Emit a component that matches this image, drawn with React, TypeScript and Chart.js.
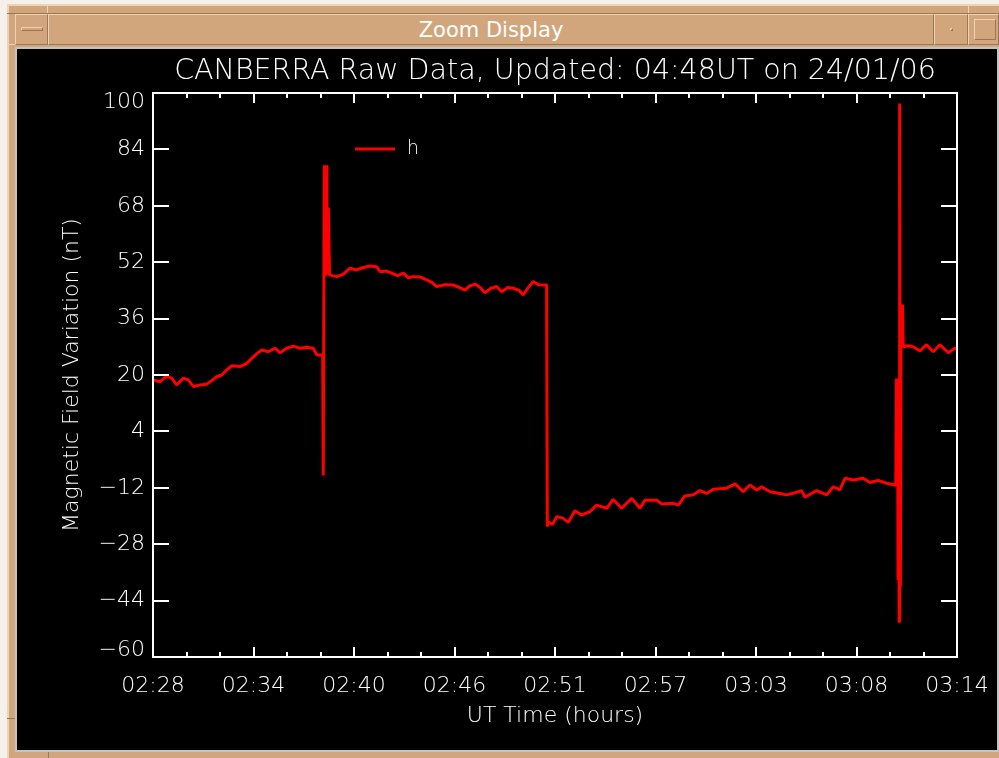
import React, { useEffect, useRef } from "react";
import { Chart, registerables } from "chart.js";

Chart.register(...registerables);

// ---- text ----
const chartTitle = "CANBERRA Raw Data, Updated: 04:48UT on 24/01/06";
const xAxisTitle = "UT Time (hours)";
const yAxisTitle = "Magnetic Field Variation (nT)";
const seriesName = "h";
const windowTitle = "Zoom Display";

// ---- axes ----
// time axis runs in minutes after 02:28 UT
const spanMinutes = 46;
const timeTickLabels = ["02:28", "02:34", "02:40", "02:46", "02:51", "02:57", "03:03", "03:08", "03:14"];
const minorPerMajor = 3;
const fieldMin = -60;
const fieldMax = 100;
const fieldTicks = [-60, -44, -28, -12, 4, 20, 36, 52, 68, 84, 100];

// ---- H component samples (minutes, nT) ----
const riseMinutes = [0.02, 0.4, 0.78, 1.07, 1.35, 1.74, 2.02, 2.31, 2.69, 3.07, 3.36, 3.64, 3.93, 4.21, 4.5, 4.98, 5.36, 5.65, 5.93, 6.22, 6.6, 6.98, 7.27, 7.65, 8.03, 8.41, 8.79, 9.17, 9.37, 9.71];
const riseH = [18.6, 18.1, 19.7, 19.1, 17.2, 19.1, 18.6, 16.7, 17.2, 17.4, 18.4, 19.5, 20.0, 21.4, 22.6, 22.4, 23.3, 24.7, 26.0, 27.1, 26.6, 27.6, 26.3, 27.6, 28.2, 27.6, 27.9, 27.6, 25.7, 25.7];

const firstJumpMinutes = [9.74, 9.8, 9.86, 9.9, 9.95, 10.03, 10.1];
const firstJumpH = [-8.5, 79.5, 48.0, 79.5, 48.5, 67.5, 48.4];

const plateauMinutes = [10.51, 10.9, 11.27, 11.65, 12.03, 12.41, 12.8, 12.99, 13.37, 13.75, 14.0, 14.32, 14.6, 14.89, 15.28, 15.66, 15.95, 16.23, 16.7, 17.18, 17.5, 17.85, 18.1, 18.42, 18.7, 18.99, 19.3, 19.66, 19.95, 20.3, 20.61, 20.95, 21.18, 21.5, 21.76, 22.05, 22.52];
const plateauH = [47.9, 48.6, 50.3, 49.8, 50.5, 50.9, 50.7, 49.3, 49.5, 48.7, 48.2, 48.9, 47.6, 47.9, 47.8, 47.0, 46.3, 45.1, 45.6, 45.5, 44.9, 44.1, 45.2, 45.8, 44.9, 43.3, 44.5, 45.1, 43.6, 44.8, 44.6, 44.0, 42.7, 45.0, 46.5, 45.6, 45.5];

const lowMinutes = [22.56, 22.61, 22.85, 23.1, 23.45, 23.76, 24.14, 24.53, 25.0, 25.38, 25.96, 26.33, 26.81, 27.39, 27.86, 28.15, 28.82, 29.1, 29.77, 30.05, 30.43, 30.91, 31.29, 31.68, 32.05, 32.82, 33.3, 33.77, 34.15, 34.54, 34.82, 35.3, 35.87, 36.25, 36.73, 37.11, 37.3, 37.68, 37.97, 38.54, 38.92, 39.3, 39.59, 40.06, 40.63, 41.02, 41.49, 41.97, 42.45];
const lowH = [-23.0, -21.6, -22.4, -20.2, -20.6, -21.8, -18.5, -19.7, -18.8, -16.9, -17.8, -15.3, -17.8, -15.0, -17.8, -15.5, -15.5, -16.6, -16.4, -16.9, -14.3, -14.0, -12.8, -13.6, -12.4, -12.1, -10.9, -13.1, -11.2, -12.6, -11.7, -13.1, -13.6, -14.0, -13.4, -12.8, -14.7, -13.6, -12.8, -14.0, -11.7, -12.6, -9.3, -9.8, -9.3, -10.5, -9.9, -10.7, -11.2];

const burstMinutes = [42.5, 42.53, 42.56, 42.6, 42.63, 42.66, 42.69, 42.72, 42.76, 42.8, 42.88, 42.92];
const burstH = [-11.0, 19.0, -10.0, 11.0, -38.0, 10.0, -50.0, 97.0, -40.0, 28.0, 40.0, 28.0];

const recoveryMinutes = [43.2, 43.5, 43.88, 44.26, 44.64, 45.02, 45.5, 45.88, 46.0];
const recoveryH = [28.3, 28.0, 26.8, 28.6, 26.6, 28.6, 26.3, 27.6, 27.2];

const allMinutes = [...riseMinutes, ...firstJumpMinutes, ...plateauMinutes, ...lowMinutes, ...burstMinutes, ...recoveryMinutes];
const allH = [...riseH, ...firstJumpH, ...plateauH, ...lowH, ...burstH, ...recoveryH];

const SANS = "'DejaVu Sans', 'Liberation Sans', sans-serif";
const THIN = "200";
const LABEL_SIZE = 22;
const TRACE = "#ff0000";
const INK = "#ffffff";

const minorCount = (timeTickLabels.length - 1) * minorPerMajor;

// Box, inward ticks, field labels and the legend, drawn in the old plotting-package style
const framePlugin = {
  id: "boxFrame",
  afterDatasetsDraw(chart: any) {
    const { ctx, chartArea: a, scales } = chart;
    const xs = scales.x;
    const ys = scales.y;
    ctx.save();
    ctx.strokeStyle = INK;
    ctx.lineWidth = 2;
    ctx.strokeRect(a.left, a.top, a.right - a.left, a.bottom - a.top);
    ctx.beginPath();
    for (let i = 0; i <= minorCount; i++) {
      const px = Math.round(xs.getPixelForValue((spanMinutes * i) / minorCount));
      const len = i % minorPerMajor === 0 ? 10 : 5;
      ctx.moveTo(px, a.bottom);
      ctx.lineTo(px, a.bottom - len);
      ctx.moveTo(px, a.top);
      ctx.lineTo(px, a.top + len);
    }
    for (const v of fieldTicks) {
      const py = Math.round(ys.getPixelForValue(v));
      ctx.moveTo(a.left, py);
      ctx.lineTo(a.left + 16, py);
      ctx.moveTo(a.right, py);
      ctx.lineTo(a.right - 16, py);
    }
    ctx.stroke();

    ctx.fillStyle = INK;
    ctx.font = `${THIN} ${LABEL_SIZE}px ${SANS}`;
    ctx.textAlign = "right";
    ctx.textBaseline = "middle";
    for (const v of fieldTicks) {
      const py = ys.getPixelForValue(v);
      const y = Math.min(Math.max(py, a.top + 9), a.bottom - 7);
      const text = v < 0 ? "\u2212" + Math.abs(v) : String(v);
      ctx.fillText(text, a.left - 8, y);
    }

    // legend
    const lx = a.left + 202;
    const ly = a.top + 56;
    ctx.strokeStyle = TRACE;
    ctx.lineWidth = 3;
    ctx.beginPath();
    ctx.moveTo(lx, ly);
    ctx.lineTo(lx + 40, ly);
    ctx.stroke();
    ctx.fillStyle = INK;
    ctx.font = `${THIN} 19px ${SANS}`;
    ctx.textAlign = "left";
    ctx.textBaseline = "alphabetic";
    ctx.fillText(seriesName, lx + 52, ly + 5);
    ctx.restore();
  },
};

function Bevel(props: { left: number; top: number; width: number; height: number; children?: React.ReactNode }) {
  return (
    <div
      style={{
        position: "absolute",
        left: props.left,
        top: props.top,
        width: props.width,
        height: props.height,
        boxSizing: "border-box",
        background: "#d2a67c",
        borderTop: "1px solid #efd3b2",
        borderLeft: "1px solid #efd3b2",
        borderBottom: "1px solid #9a7754",
        borderRight: "1px solid #9a7754",
      }}
    >
      {props.children}
    </div>
  );
}

const raisedEdge = {
  position: "absolute" as const,
  boxSizing: "border-box" as const,
  borderTop: "1px solid #efd3b2",
  borderLeft: "1px solid #efd3b2",
  borderBottom: "1px solid #9a7754",
  borderRight: "1px solid #9a7754",
};

export default function App() {
  const canvasRef = useRef<HTMLCanvasElement>(null);

  useEffect(() => {
    const canvas = canvasRef.current;
    if (!canvas) return;
    const points = allMinutes.map((m, i) => ({ x: m, y: allH[i] }));
    const chart = new Chart(canvas, {
      type: "line",
      data: {
        datasets: [
          {
            label: seriesName,
            data: points,
            borderColor: TRACE,
            backgroundColor: TRACE,
            borderWidth: 3,
            borderJoinStyle: "bevel",
            pointRadius: 0,
            tension: 0,
            fill: false,
          },
        ],
      },
      options: {
        responsive: false,
        animation: false,
        devicePixelRatio: 1,
        layout: { padding: { left: 0, right: 40, top: 0, bottom: 0 } },
        plugins: {
          legend: { display: false },
          title: { display: false },
          tooltip: { enabled: false },
        },
        scales: {
          x: {
            type: "linear",
            position: "bottom",
            min: 0,
            max: spanMinutes,
            afterBuildTicks: (s: any) => {
              s.ticks = Array.from({ length: minorCount + 1 }, (_, i) => ({ value: (spanMinutes * i) / minorCount }));
            },
            afterFit: (s: any) => {
              s.height = 93;
              s.paddingLeft = 0;
              s.paddingRight = 0;
            },
            grid: { display: false, drawTicks: false },
            border: { display: false },
            ticks: {
              autoSkip: false,
              maxRotation: 0,
              minRotation: 0,
              color: INK,
              padding: 18,
              font: { family: SANS, size: LABEL_SIZE, weight: THIN, lineHeight: 1 },
              callback: (_v: any, index: number) => (index % minorPerMajor === 0 ? timeTickLabels[index / minorPerMajor] : ""),
            },
            title: {
              display: true,
              text: xAxisTitle,
              color: INK,
              font: { family: SANS, size: LABEL_SIZE, weight: THIN, lineHeight: 1 },
              padding: { top: 0, bottom: 23 },
            },
          },
          top: {
            type: "linear",
            position: "top",
            min: 0,
            max: spanMinutes,
            afterFit: (s: any) => {
              s.height = 44;
              s.paddingLeft = 0;
              s.paddingRight = 0;
            },
            grid: { display: false, drawTicks: false },
            border: { display: false },
            ticks: { display: false },
            title: {
              display: true,
              text: chartTitle,
              color: INK,
              font: { family: SANS, size: 28.5, weight: THIN, lineHeight: 1 },
              padding: { top: 8, bottom: 0 },
            },
          },
          y: {
            type: "linear",
            position: "left",
            min: fieldMin,
            max: fieldMax,
            afterFit: (s: any) => {
              s.width = 136;
            },
            grid: { display: false, drawTicks: false },
            border: { display: false },
            ticks: { display: false },
            title: {
              display: true,
              text: yAxisTitle,
              color: INK,
              font: { family: SANS, size: LABEL_SIZE, weight: THIN, lineHeight: 1 },
              padding: { top: 44, bottom: 0 },
            },
          },
        },
      },
      plugins: [framePlugin],
    } as any);
    return () => chart.destroy();
  }, []);

  return (
    <div
      style={{
        position: "fixed",
        left: 0,
        top: 0,
        width: 999,
        height: 758,
        overflow: "hidden",
        background: "#f6f0ea",
        fontFamily: SANS,
      }}
    >
      {/* window frame */}
      <div
        style={{
          position: "absolute",
          left: 7,
          top: 4,
          width: 992,
          height: 754,
          boxSizing: "border-box",
          background: "#d2a67c",
          borderTop: "2px solid #efd3b2",
          borderLeft: "2px solid #efd3b2",
        }}
      />
      {/* resize-corner marks */}
      <div style={{ position: "absolute", left: 47, top: 4, width: 1, height: 9, background: "#efd3b2" }} />
      <div style={{ position: "absolute", left: 968, top: 4, width: 1, height: 9, background: "#efd3b2" }} />
      <div style={{ position: "absolute", left: 7, top: 44, width: 8, height: 1, background: "#efd3b2" }} />
      <div style={{ position: "absolute", left: 7, top: 718, width: 8, height: 1, background: "#9a7754" }} />
      <div style={{ position: "absolute", left: 48, top: 752, width: 1, height: 6, background: "#9a7754" }} />
      <div style={{ position: "absolute", left: 7, top: 13, width: 992, height: 1, background: "#9a7754" }} />

      {/* title bar */}
      <Bevel left={15} top={14} width={33} height={31}>
        <div style={{ ...raisedEdge, left: 5, top: 12, width: 22, height: 4 }} />
      </Bevel>
      <Bevel left={48} top={14} width={886} height={31}>
        <div
          style={{
            position: "absolute",
            left: 0,
            top: 0,
            width: "100%",
            height: "100%",
            lineHeight: "30px",
            textAlign: "center",
            color: "#ffffff",
            fontSize: 21,
            fontFamily: SANS,
          }}
        >
          {windowTitle}
        </div>
      </Bevel>
      <Bevel left={934} top={14} width={34} height={31}>
        <div style={{ ...raisedEdge, left: 15, top: 13, width: 3, height: 3 }} />
      </Bevel>
      <Bevel left={968} top={14} width={31} height={31}>
        <div style={{ ...raisedEdge, left: 5, top: 4, width: 22, height: 21 }} />
      </Bevel>

      {/* drawing area */}
      <div style={{ position: "absolute", left: 15, top: 47, width: 984, height: 705, background: "#c4c4c4" }} />
      <div style={{ position: "absolute", left: 17, top: 49, width: 980, height: 701, background: "#000000" }}>
        <canvas ref={canvasRef} width={980} height={701} style={{ display: "block" }} />
      </div>
    </div>
  );
}
